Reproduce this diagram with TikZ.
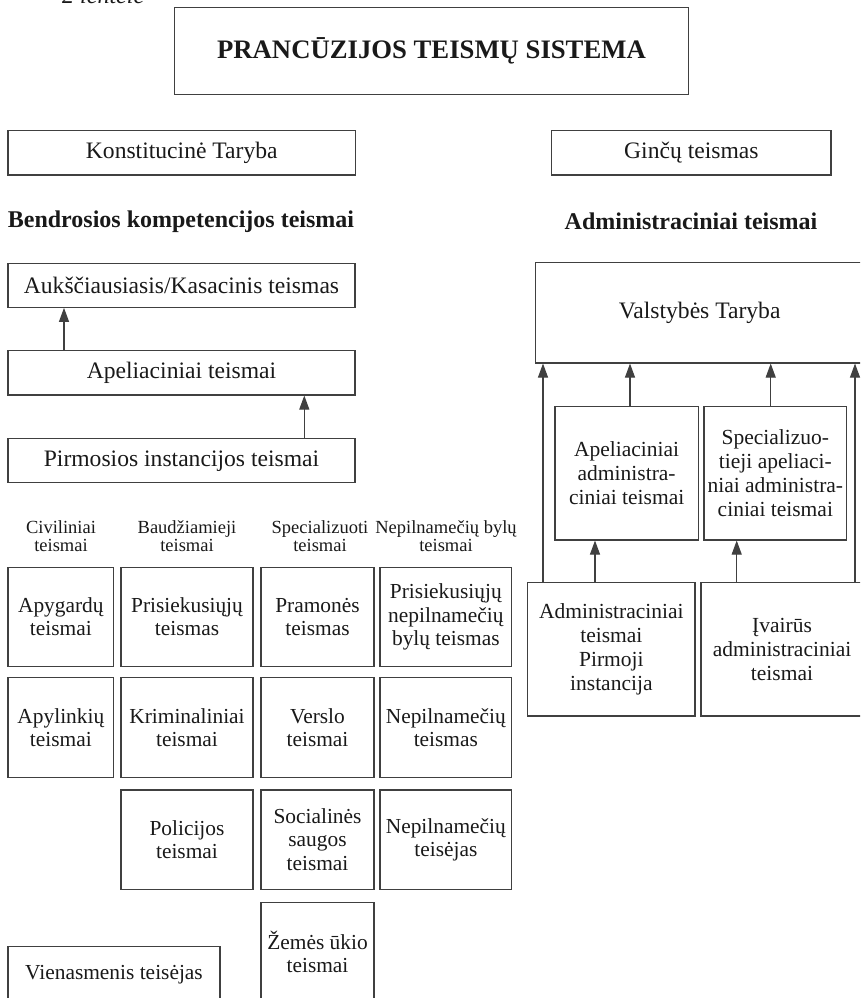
\documentclass[tikz,border=0pt]{standalone}
\usepackage{fontspec}
\setmainfont{Liberation Serif}
\usetikzlibrary{arrows.meta}
\tikzset{
  box/.style={draw=black!75, line width=1.1pt, inner sep=0pt, align=center, text=black!90},
  topbox/.style={box, font=\fontsize{23.6}{26}\selectfont},
  gbox/.style={box, font=\fontsize{21.4}{23.3}\selectfont},
  rbox/.style={box, font=\fontsize{21.5}{24}\selectfont},
  collabel/.style={align=center, inner sep=0pt, text=black!90, font=\fontsize{18.5}{18.3}\selectfont},
  heading/.style={inner sep=0pt, text=black!90, font=\fontsize{24}{26}\selectfont\bfseries},
  arr/.style={draw=black!75, line width=1.1pt, -{Triangle[length=14pt,width=10pt]}}
}
\begin{document}
\begin{tikzpicture}[x=1pt,y=-1pt]
\useasboundingbox (0,0) rectangle (860,998);
\clip (0,0) rectangle (860,998);
% caption (cut at top)
\node[anchor=base west, inner sep=0pt, text=black!90, font=\fontsize{24}{26}\selectfont\itshape] (cap) at (62,3.5) {2 lentelė};
% title
\node[box, minimum width=514.4pt, minimum height=87pt, font=\fontsize{26.7}{30}\selectfont\bfseries] (title) at (431.5,50.8) {PRANCŪZIJOS TEISMŲ SISTEMA};
% top row
\node[topbox, minimum width=347.5pt, minimum height=44.3pt] (konst) at (181.75,152.85) {Konstitucinė Taryba};
\node[topbox, minimum width=279.3pt, minimum height=44.7pt] (ginc) at (691.35,152.65) {Ginčų teismas};
% headings
\node[heading] (hbend) at (181,221.7) {Bendrosios kompetencijos teismai};
\node[heading] (hadm) at (691,221.7) {Administraciniai teismai};
% left hierarchy
\node[topbox, minimum width=347pt, minimum height=44pt] (auks) at (181.5,285.3) {Aukščiausiasis/Kasacinis teismas};
\node[topbox, minimum width=347pt, minimum height=44.3pt] (apel) at (181.5,372.85) {Apeliaciniai teismai};
\node[topbox, minimum width=347pt, minimum height=44pt] (pirm) at (181.5,460.7) {Pirmosios instancijos teismai};
\draw[arr] (apel.north -| 64,0) -- (auks.south -| 64,0);
\draw[arr] (pirm.north -| 304.3,0) -- (apel.south -| 304.3,0);
% column labels
\node[collabel] (lciv) at (61,536) {Civiliniai\\teismai};
\node[collabel] (lbaud) at (187,536) {Baudžiamieji\\teismai};
\node[collabel] (lspec) at (320,536) {Specializuoti\\teismai};
\node[collabel] (lnep) at (446,536) {Nepilnamečių bylų\\teismai};
% grid row 1
\node[gbox, minimum width=105.7pt, minimum height=99.4pt] (a1) at (60.85,617) {Apygardų\\teismai};
\node[gbox, minimum width=132pt, minimum height=99.4pt] (b1) at (187,617) {Prisiekusiųjų\\teismas};
\node[gbox, minimum width=113pt, minimum height=99.4pt] (c1) at (317.5,617) {Pramonės\\teismas};
\node[gbox, minimum width=131.7pt, minimum height=99.4pt] (d1) at (445.85,617) {Prisiekusiųjų\\nepilnamečių\\bylų teismas};
% grid row 2
\node[gbox, minimum width=105.7pt, minimum height=99.7pt] (a2) at (60.85,727.35) {Apylinkių\\teismai};
\node[gbox, minimum width=132pt, minimum height=99.7pt] (b2) at (187,727.35) {Kriminaliniai\\teismai};
\node[gbox, minimum width=113pt, minimum height=99.7pt] (c2) at (317.5,727.35) {Verslo\\teismai};
\node[gbox, minimum width=131.7pt, minimum height=99.7pt] (d2) at (445.85,727.35) {Nepilnamečių\\teismas};
% grid row 3
\node[gbox, minimum width=132pt, minimum height=99.3pt] (b3) at (187,839.65) {Policijos\\teismai};
\node[gbox, minimum width=113pt, minimum height=99.3pt] (c3) at (317.5,839.65) {Socialinės\\saugos\\teismai};
\node[gbox, minimum width=131.7pt, minimum height=99.3pt] (d3) at (445.85,839.65) {Nepilnamečių\\teisėjas};
% grid row 4
\node[gbox, minimum width=113pt, minimum height=99.4pt] (c4) at (317.5,952) {Žemės ūkio\\teismai};
\node[gbox, minimum width=212pt, minimum height=56.6pt] (vien) at (114,975) {Vienasmenis teisėjas};
% right side
\node[topbox, minimum width=328pt, minimum height=100.3pt] (valst) at (699.7,312.85) {Valstybės Taryba};
\node[rbox, minimum width=143.3pt, minimum height=133.3pt] (apadm) at (626.65,473.35) {Apeliaciniai\\administra-\\ciniai teismai};
\node[rbox, minimum width=142.7pt, minimum height=133.3pt] (spec) at (775.35,473.35) {Specializuo-\\tieji apeliaci-\\niai administra-\\ciniai teismai};
\node[rbox, minimum width=167.3pt, minimum height=133.3pt] (adm1) at (611.35,649.35) {Administraciniai\\teismai\\Pirmoji\\instancija};
\node[rbox, minimum width=162pt, minimum height=133.3pt] (ivair) at (782,649.35) {Įvairūs\\administraciniai\\teismai};
\draw[arr] (adm1.north -| 543,0) -- (valst.south -| 543,0);
\draw[arr] (apadm.north -| 630,0) -- (valst.south -| 630,0);
\draw[arr] (spec.north -| 770.7,0) -- (valst.south -| 770.7,0);
\draw[arr] (ivair.north -| 855,0) -- (valst.south -| 855,0);
\draw[arr] (adm1.north -| 595,0) -- (apadm.south -| 595,0);
\draw[arr] (ivair.north -| 736.7,0) -- (spec.south -| 736.7,0);
\end{tikzpicture}
\end{document}
